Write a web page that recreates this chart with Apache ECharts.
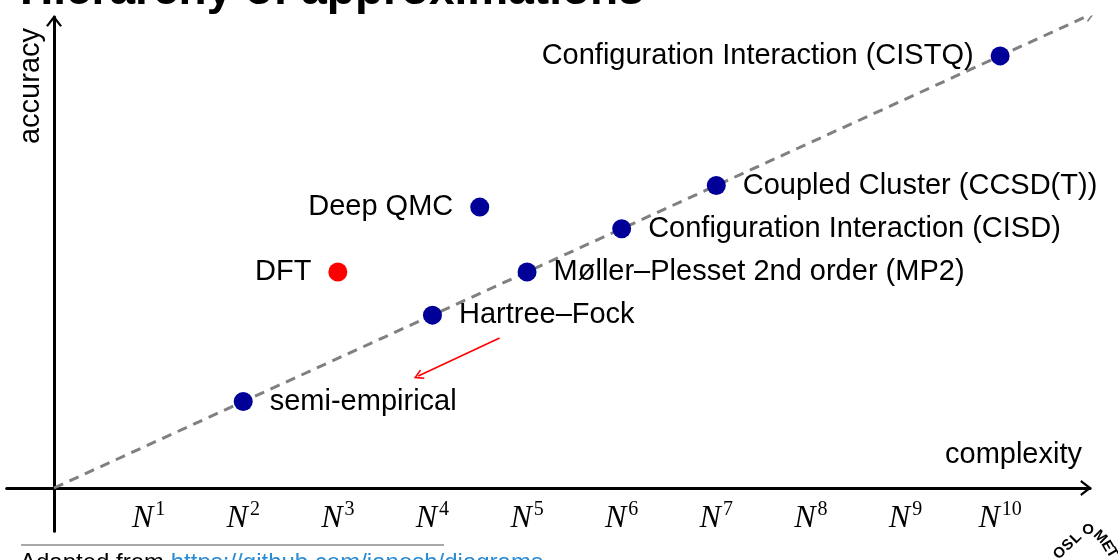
<!DOCTYPE html>
<html>
<head>
<meta charset="utf-8">
<script src="https://cdn.jsdelivr.net/npm/echarts@6/dist/echarts.min.js"></script>
<style>
html,body{margin:0;padding:0;background:#fff;}
#chart{width:1118px;height:560px;}
</style>
</head>
<body>
<div id="chart"></div>
<script>
// ---- data ----
const methods = [
  'semi-empirical',
  'Hartree–Fock',
  'Møller–Plesset 2nd order (MP2)',
  'Configuration Interaction (CISD)',
  'Coupled Cluster (CCSD(T))',
  'Configuration Interaction (CISTQ)',
  'DFT',
  'Deep QMC'
];
const complexityExp = [2, 4, 5, 6, 7, 10, 3, 4.5];
const accuracyLevel = [2, 4, 5, 6, 7, 10, 5, 6.5];
const tickExponents = [1, 2, 3, 4, 5, 6, 7, 8, 9, 10];
const trendLine = [[0, 0], [10.95, 10.95]];
const annotationArrow = [[4.71, 3.47], [3.85, 2.59]];
const titleText = 'Hierarchy of approximations';
const footerPrefix = 'Adapted from ';
const footerLink = 'https://github.com/janosh/diagrams';

// ---- styling helpers ----
const SANS = "'Liberation Sans', Helvetica, Arial, sans-serif";
const SERIF = "'Liberation Serif', 'Times New Roman', serif";
const BLUE = '#000099';
const RED = '#ff0000';
const leftLabeled = new Set(['Configuration Interaction (CISTQ)', 'DFT', 'Deep QMC']);
const highlighted = new Set(['DFT']);
const chevron = 'path://M0,13 L10,0 L20,13 L17.6,14.4 L10,4.6 L2.4,14.4 Z';

const points = methods.map((m, i) => ({
  name: m,
  value: [complexityExp[i], accuracyLevel[i]],
  itemStyle: { color: highlighted.has(m) ? RED : BLUE, opacity: 1 },
  label: {
    show: true,
    formatter: m,
    position: leftLabeled.has(m) ? 'left' : 'right',
    distance: 17,
    color: '#000',
    opacity: 1,
    fontFamily: SANS,
    fontSize: 29
  }
}));

const chart = echarts.init(document.getElementById('chart'), null, { renderer: 'canvas' });
chart.setOption({
  animation: false,
  backgroundColor: '#fff',
  grid: { left: 6.7, right: 28, top: 17, bottom: 28.8, containLabel: false, outerBoundsMode: 'none' },
  xAxis: {
    type: 'value',
    min: -0.5, max: 10.95, interval: 0.5,
    axisLine: {
      onZero: true,
      lineStyle: { color: '#000', width: 3 },
      symbol: ['none', chevron],
      symbolSize: [16, 12],
      symbolOffset: [0, -4]
    },
    axisTick: { show: false },
    splitLine: { show: false },
    axisLabel: {
      margin: -31,
      hideOverlap: false,
      formatter: v => {
        const k = Math.round(v);
        if (Math.abs(v - k) > 1e-6) return '';
        const idx = tickExponents.indexOf(k);
        return idx < 0 ? '' : '{n|N}{s|' + tickExponents[idx] + '}';
      },
      rich: {
        n: { fontFamily: SERIF, fontStyle: 'italic', fontSize: 32, color: '#000', lineHeight: 34, verticalAlign: 'bottom' },
        s: { fontFamily: SERIF, fontSize: 20, color: '#000', lineHeight: 20, verticalAlign: 'top', padding: [0, 0, 0, 2] }
      }
    }
  },
  yAxis: {
    type: 'value',
    min: -1, max: 10.9,
    axisLine: {
      onZero: true,
      lineStyle: { color: '#000', width: 3 },
      symbol: ['none', chevron],
      symbolSize: [16, 12],
      symbolOffset: [0, -4]
    },
    axisTick: { show: false },
    axisLabel: { show: false },
    splitLine: { show: false }
  },
  series: [
    {
      type: 'lines',
      coordinateSystem: 'cartesian2d',
      silent: true,
      z: 1,
      symbol: ['none', chevron],
      symbolSize: [15, 11],
      lineStyle: { color: '#808080', width: 3, type: [10, 7], opacity: 1 },
      data: [{ coords: trendLine }]
    },
    {
      type: 'lines',
      coordinateSystem: 'cartesian2d',
      silent: true,
      z: 2,
      symbol: ['none', chevron],
      symbolSize: [14, 10],
      lineStyle: { color: RED, width: 1.6, opacity: 1 },
      data: [{ coords: annotationArrow }]
    },
    {
      type: 'scatter',
      z: 5,
      symbol: 'circle',
      symbolSize: 19,
      itemStyle: { opacity: 1 },
      data: points
    }
  ],
  graphic: [
    { type: 'text', left: 20, top: -32, style: { text: titleText, font: "bold 46px " + SANS, fill: '#000' } },
    { type: 'text', x: 31, y: 86, rotation: Math.PI / 2,
      style: { text: 'accuracy', font: "29px " + SANS, fill: '#000', textAlign: 'center', textVerticalAlign: 'middle' } },
    { type: 'text', x: 1082, y: 469,
      style: { text: 'complexity', font: "29px " + SANS, fill: '#000', textAlign: 'right', textVerticalAlign: 'bottom' } },
    { type: 'line', shape: { x1: 21, y1: 545, x2: 444, y2: 545 }, style: { stroke: '#555', lineWidth: 1.2 } },
    { type: 'text', x: 20, y: 551,
      style: { text: '{a|' + footerPrefix + '}{b|' + footerLink + '}', font: "24px " + SANS,
        rich: { a: { fill: '#000', font: "24px " + SANS }, b: { fill: '#2a8bd5', font: "24px " + SANS } } } },
    // logo: arched OSLOMET
    { type: 'text', x: 1060, y: 553, rotation: Math.PI / 4, style: { text: 'O', font: "bold 15px " + SANS, fill: '#000', textAlign: 'center', textVerticalAlign: 'middle' } },
    { type: 'text', x: 1068, y: 545, rotation: Math.PI / 4, style: { text: 'S', font: "bold 15px " + SANS, fill: '#000', textAlign: 'center', textVerticalAlign: 'middle' } },
    { type: 'text', x: 1076, y: 538, rotation: Math.PI / 4, style: { text: 'L', font: "bold 15px " + SANS, fill: '#000', textAlign: 'center', textVerticalAlign: 'middle' } },
    { type: 'text', x: 1088, y: 530, rotation: 0, style: { text: 'O', font: "bold 15px " + SANS, fill: '#000', textAlign: 'center', textVerticalAlign: 'middle' } },
    { type: 'text', x: 1100, y: 537, rotation: -Math.PI / 4, style: { text: 'M', font: "bold 15px " + SANS, fill: '#000', textAlign: 'center', textVerticalAlign: 'middle' } },
    { type: 'text', x: 1107, y: 546, rotation: -Math.PI / 3, style: { text: 'E', font: "bold 15px " + SANS, fill: '#000', textAlign: 'center', textVerticalAlign: 'middle' } },
    { type: 'text', x: 1112, y: 553, rotation: -Math.PI / 3, style: { text: 'T', font: "bold 15px " + SANS, fill: '#000', textAlign: 'center', textVerticalAlign: 'middle' } }
  ]
});
</script>
</body>
</html>
